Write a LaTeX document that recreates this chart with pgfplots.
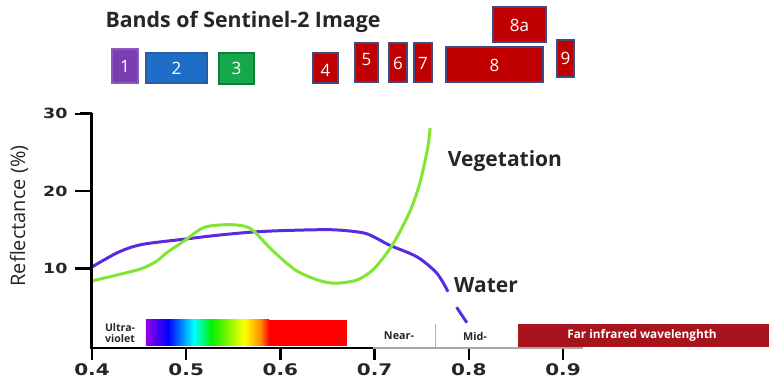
\documentclass[border=0pt]{standalone}
\usepackage{fontspec}
\setmainfont{Open Sans}
\newfontfamily\tickfont{DejaVu Sans}[FakeStretch=1.25]
\usepackage{pgfplots}
\pgfplotsset{compat=1.18}
\definecolor{waterc}{RGB}{88,44,222}
\definecolor{vegc}{RGB}{128,230,50}
\definecolor{b1}{RGB}{122,62,178}
\definecolor{b1e}{RGB}{140,90,190}
\definecolor{b2}{RGB}{30,110,200}
\definecolor{b2e}{RGB}{40,90,165}
\definecolor{b3}{RGB}{22,168,74}
\definecolor{b3e}{RGB}{14,125,54}
\definecolor{bred}{RGB}{192,0,0}
\definecolor{bredE}{RGB}{62,74,128}
\definecolor{farred}{RGB}{168,20,30}
\definecolor{specviolet}{RGB}{150,0,230}
\definecolor{specorange}{RGB}{255,140,0}
\definecolor{specgreen}{RGB}{0,240,0}
\pgfdeclarehorizontalshading{spectrum}{100bp}{color(0bp)=(specviolet); color(25bp)=(specviolet); color(34bp)=(blue); color(44.5bp)=(cyan); color(51.5bp)=(specgreen); color(65bp)=(yellow); color(71.5bp)=(specorange); color(75bp)=(red); color(100bp)=(red)}

\pgfplotstableread{
x y
0.400 10.2
0.428 12.1
0.453 13.1
0.499 13.8
0.534 14.3
0.570 14.7
0.605 14.9
0.655 15.0
0.688 14.6
0.702 13.9
0.716 13.0
0.745 11.5
0.766 9.4
0.778 7.0
}\watera
\pgfplotstableread{
x y
0.787 5.0
0.798 3.0
}\waterb
\pgfplotstableread{
x y
0.400 8.4
0.428 9.2
0.453 10.0
0.468 10.9
0.480 12.1
0.496 13.4
0.517 15.2
0.534 15.6
0.555 15.6
0.570 15.0
0.591 12.4
0.616 9.8
0.640 8.5
0.658 8.1
0.681 8.5
0.698 9.8
0.713 12.0
0.724 14.1
0.738 17.5
0.748 21.0
0.756 25.3
0.759 28.1
}\veg

\begin{document}
\begin{tikzpicture}
\begin{axis}[name=ax, at={(0,0)}, anchor=south west,
  scale only axis, width=677pt, height=348pt,
  xmin=0.4, xmax=1.1187, ymin=-0.26, ymax=44.65,
  axis line style={draw=none}, clip=false,
  xtick={0.4,0.5,0.6,0.7,0.8,0.9},
  xticklabels={0.4,0.5,0.6,0.7,0.8,0.9},
  ytick={10,20,30}, yticklabels={10,20,30},
  xtick pos=bottom, ytick pos=left,
  tick align=outside, major tick length=12pt,
  tick style={line width=2.5pt, black},
  xticklabel style={font=\tickfont\bfseries\fontsize{16}{16}\selectfont, text=black!85},
  yticklabel style={font=\tickfont\bfseries\fontsize{14}{14}\selectfont, text=black!85, xshift=-9pt},
]
\addplot[waterc, line width=3pt, smooth, tension=0.5] table {\watera};
\addplot[waterc, line width=3pt] table {\waterb};
\addplot[vegc, line width=3pt, smooth, tension=0.5] table {\veg};
\end{axis}
\begin{scope}[shift={(ax.south west)}, xshift=-92pt, yshift=348pt, x=1pt, y=-1pt]
\path (0,0) rectangle (769,380);
% axes
\draw[line width=2.5pt, black] (75,114) -- (92,114);
\draw[line width=2.5pt, black] (75,191) -- (92,191);
\draw[line width=2.5pt, black] (75,268.5) -- (92,268.5);
\draw[line width=3pt, black] (92,113) -- (92,349.5);
\draw[line width=1.5pt, gray!70] (373,348) -- (583,348);
\draw[line width=2.5pt, black] (90.5,348) -- (373,348);
% spectrum
\shade[shading=spectrum] (146,320) rectangle (269,346);
\fill[red] (269,320) rectangle (347,346);
\draw[gray!60, line width=1pt] (435,324) -- (435,348);
\fill[farred] (518,324) rectangle (769,347);
\node[font=\bfseries\fontsize{10.5}{10.5}\selectfont, align=center, text=black!85, inner sep=0] at (120,333) {Ultra-\\violet};
\node[font=\bfseries\fontsize{10.8}{11}\selectfont, text=black!85] at (399,336) {Near-};
\node[font=\bfseries\fontsize{10.8}{11}\selectfont, text=black!85] at (475,336) {Mid-};
\node[font=\bfseries\fontsize{11.8}{12}\selectfont, text=white] at (642,335) {Far infrared wavelenghth};
% labels
\node[font=\bfseries\fontsize{21}{22}\selectfont, text=black!85] at (505,161) {Vegetation};
\node[font=\bfseries\fontsize{21}{22}\selectfont, text=black!85] at (486,285) {Water};
\node[font=\fontsize{20}{20}\selectfont, text=black!85, rotate=90] at (19,216) {Reflectance (\%)};
% title
\node[font=\bfseries\fontsize{21.3}{22}\selectfont, text=black!85] at (243,22) {Bands of Sentinel-2 Image};
% band boxes
\tikzset{bx/.style={line width=1.5pt}, bt/.style={text=white, font=\fontsize{17}{17}\selectfont}}
\draw[bx, fill=b1, draw=b1e] (112,49) rectangle (138,83); \node[bt] at (125,66) {1};
\draw[bx, fill=b2, draw=b2e] (146,53) rectangle (207,83); \node[bt] at (176.5,68) {2};
\draw[bx, fill=b3, draw=b3e] (219,53) rectangle (254,84); \node[bt] at (236.5,68.5) {3};
\draw[bx, fill=bred, draw=bredE] (313,53) rectangle (338,83); \node[bt] at (325.5,70) {4};
\draw[bx, fill=bred, draw=bredE] (355,43) rectangle (378,82); \node[bt] at (366.5,60) {5};
\draw[bx, fill=bred, draw=bredE] (389,43) rectangle (407,82); \node[bt] at (398,63) {6};
\draw[bx, fill=bred, draw=bredE] (414,43) rectangle (432,82); \node[bt] at (423,63) {7};
\draw[bx, fill=bred, draw=bredE] (446,47) rectangle (543,82); \node[bt] at (494.5,65) {8};
\draw[bx, fill=bred, draw=bredE] (493,7) rectangle (546,42); \node[bt] at (519.5,25) {8a};
\draw[bx, fill=bred, draw=bredE] (557,40) rectangle (574,77); \node[bt] at (565.5,58) {9};
\end{scope}
\end{tikzpicture}
\end{document}
